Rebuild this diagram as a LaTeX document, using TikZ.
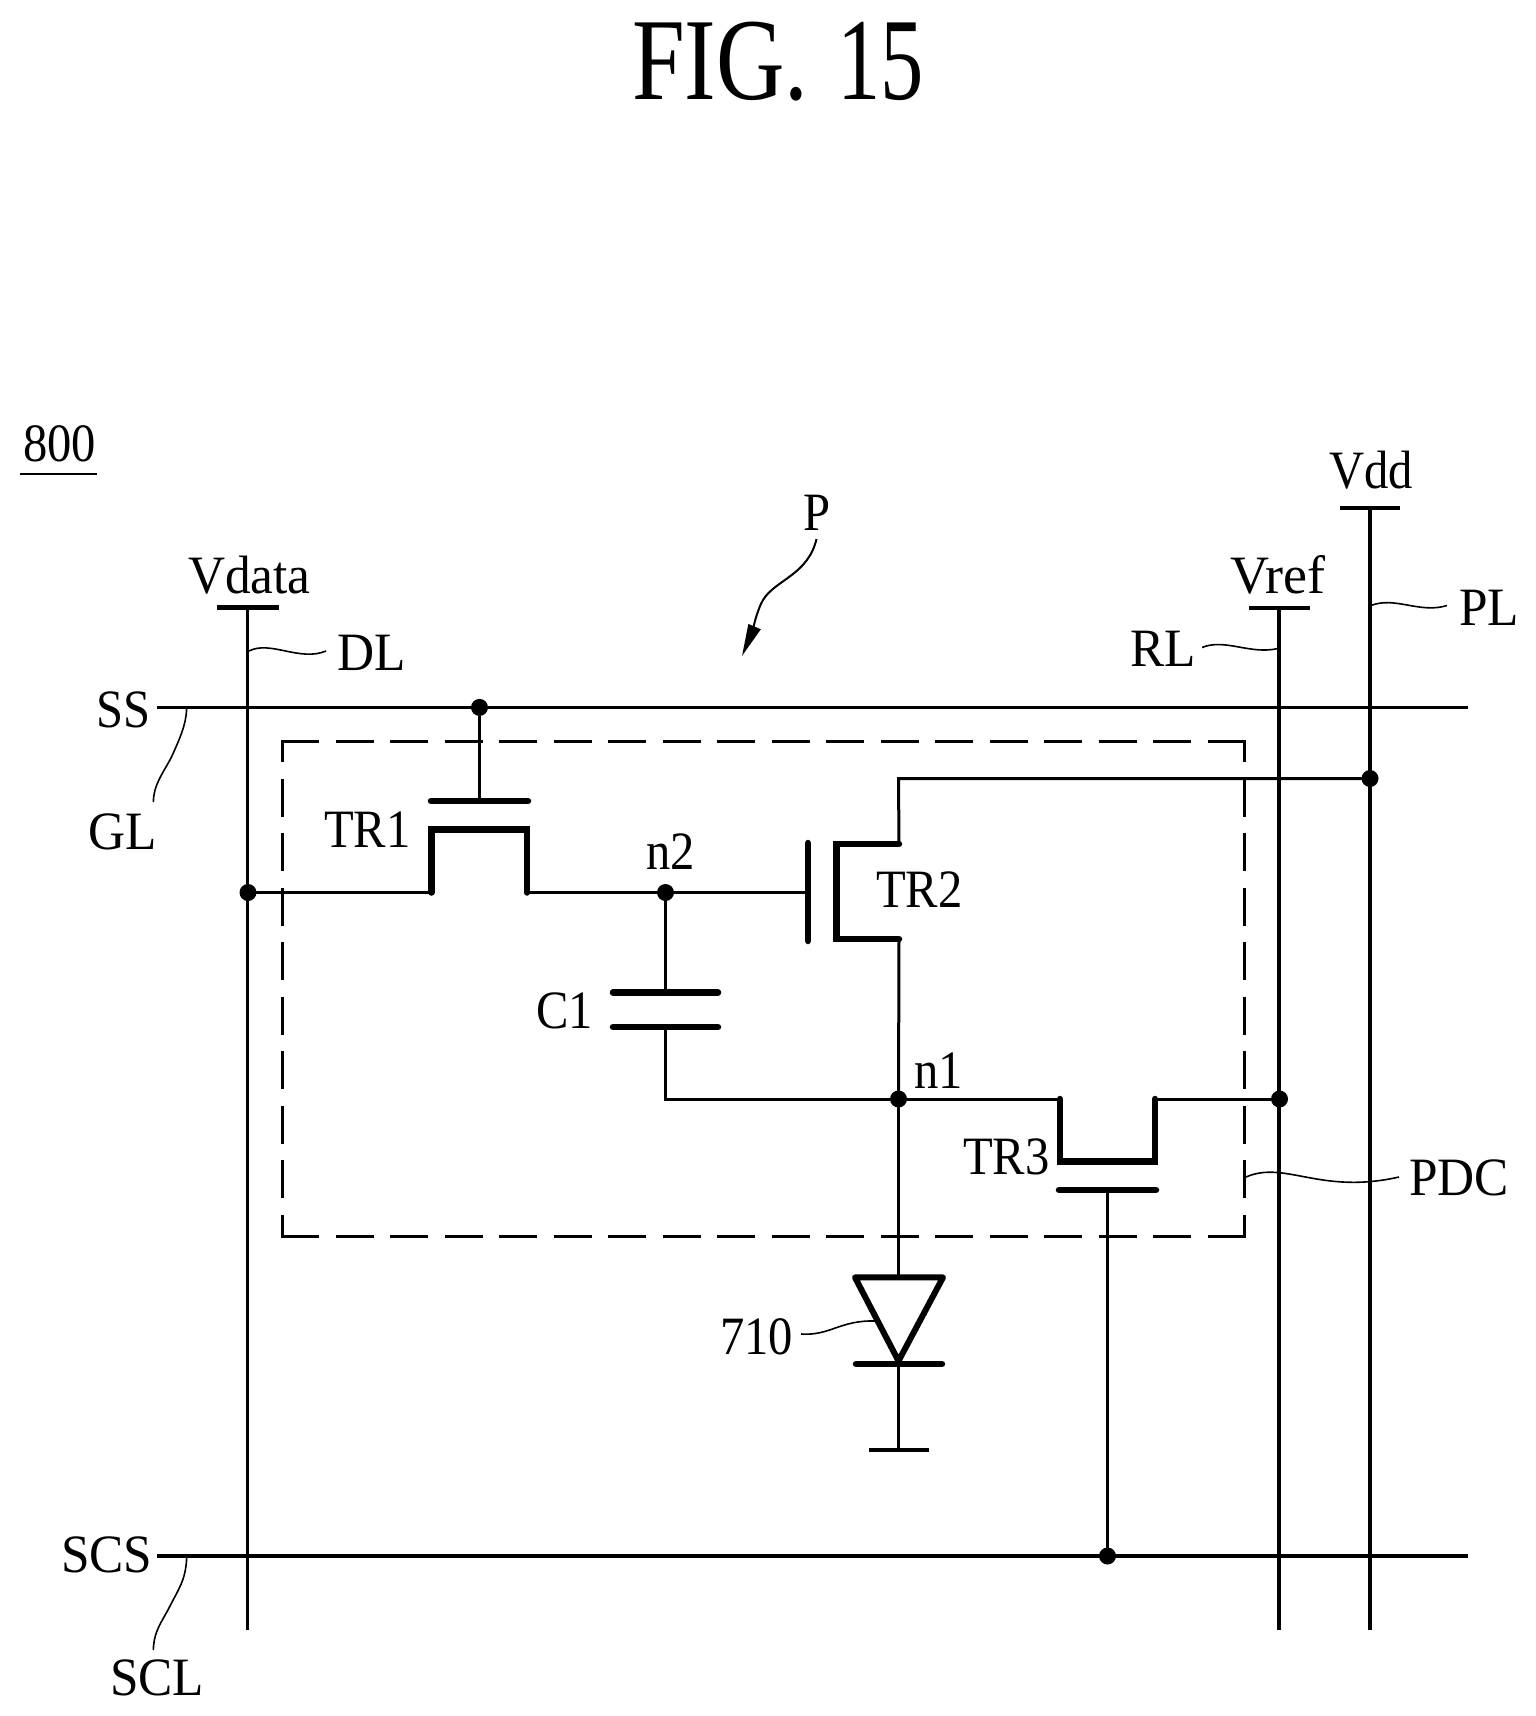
\documentclass[tikz,border=0pt]{standalone}
\usepackage{fontspec}
\usetikzlibrary{arrows.meta}
\newfontfamily\lblfont[FakeStretch=0.9]{Liberation Serif}
\newfontfamily\lblm[FakeStretch=0.95]{Liberation Serif}
\newfontfamily\lblw[FakeStretch=1.0]{Liberation Serif}
\newfontfamily\titlefont[FakeStretch=0.81]{Liberation Serif}
\newfontfamily\titlenum[FakeStretch=0.74]{Liberation Serif}
\tikzset{
  wire/.style={line width=3pt,line cap=round},
  thick wire/.style={line width=6.5pt,line cap=round,line join=miter},
  leader/.style={line width=1.6pt},
  bus/.style={line width=3.4pt},
  jdot/.style={circle,fill=black,inner sep=0pt,minimum size=17pt},
  lbl/.style={inner sep=0pt,anchor=base west,font=\fontsize{54pt}{54pt}\selectfont\lblfont},
  lblM/.style={inner sep=0pt,anchor=base west,font=\fontsize{54pt}{54pt}\selectfont\lblm},
  lblW/.style={inner sep=0pt,anchor=base west,font=\fontsize{54pt}{54pt}\selectfont\lblw},
  hbox/.style={line width=3pt,dash pattern=on 38pt off 16.5pt},
  vbox/.style={line width=3pt,dash pattern=on 38pt off 16.5pt,dash phase=16pt}
}
\begin{document}
\begin{tikzpicture}[x=1pt,y=-1pt]
\useasboundingbox (0,0) rectangle (1536,1716);
\fill[white] (0,0) rectangle (1536,1716);
% title
\node[inner sep=0pt,anchor=base west] (title) at (632,99) {\fontsize{117pt}{117pt}\selectfont\titlefont FIG.\hskip 29pt\titlenum 15};
% labels
\node[lbl] (l800) at (23,461) {800};
\coordinate (u1) at (20,473.6); \coordinate (u2) at (96.5,473.6);
\draw[line width=2pt] (u1) -- (u2);
\node[lblM] (lVdata) at (188,593) {Vdata};
\node[lblM] (lDL) at (337,670.5) {DL};
\node[lbl] (lSS) at (96,727) {SS};
\node[lblM] (lGL) at (88,849.5) {GL};
\node[lbl] (lTR1) at (324,847) {TR1};
\node[lbl] (ln2) at (646,869) {n2};
\node[lbl] (lC1) at (536,1028) {C1};
\node[lbl] (lP) at (803,530) {P};
\node[lbl] (lVdd) at (1329,488) {Vdd};
\node[lblW] (lVref) at (1230,593) {Vref};
\node[lblM] (lRL) at (1130,666) {RL};
\node[lblM] (lPL) at (1459,625.5) {PL};
\node[lbl] (lTR2) at (876,907.5) {TR2};
\node[lbl] (ln1) at (914,1088) {n1};
\node[lbl] (lTR3) at (963,1174.5) {TR3};
\node[lblM] (lPDC) at (1409,1195.5) {PDC};
\node[lbl] (l710) at (720,1354.5) {710};
\node[lblM] (lSCS) at (61,1572.5) {SCS};
\node[lblM] (lSCL) at (110,1695) {SCL};
% line ends
\coordinate (dtop) at (247.5,607.4); \coordinate (dbot) at (247.5,1630);
\coordinate (rtop) at (1279,608); \coordinate (rbot) at (1279,1630);
\coordinate (ptop) at (1370,508); \coordinate (pbot) at (1370,1630);
\coordinate (ssl) at (157,707.4); \coordinate (ssr) at (1468,707.4);
\coordinate (scl) at (157,1556); \coordinate (scr) at (1468,1556);
% junctions
\node[jdot] (jg1) at (479.5,707.4) {};
\node[jdot] (jd) at (248,892.5) {};
\node[jdot] (jn2) at (665.5,892.5) {};
\node[jdot] (jn1) at (898.5,1099) {};
\node[jdot] (jr) at (1279.5,1099) {};
\node[jdot] (jp) at (1370,778.5) {};
\node[jdot] (jg3) at (1107.5,1556) {};
% dashed box
\coordinate (bxa) at (282.3,740); \coordinate (bxb) at (282.3,1238);
\coordinate (bxc) at (1244.5,740); \coordinate (bxd) at (1244.5,1238);
\coordinate (bxe) at (281,741.4); \coordinate (bxf) at (1246,741.4);
\coordinate (bxg) at (281,1236.5); \coordinate (bxh) at (1246,1236.5);
\draw[vbox] (bxa) -- (bxb);
\draw[vbox] (bxc) -- (bxd);
\draw[hbox] (bxe) -- (bxf);
\draw[hbox] (bxg) -- (bxh);
% buses
\draw[bus] (dtop) -- (dbot);
\draw[bus] (rtop) -- (rbot);
\draw[bus] (ptop) -- (pbot);
\draw[bus] (ssl) -- (ssr);
\draw[bus] (scl) -- (scr);
\draw[line width=4.5pt] (217,607.4) -- (279,607.4);
\draw[line width=4.5pt] (1249,608) -- (1310,608);
\draw[line width=4.5pt] (1340,508) -- (1400,508);
% TR1
\coordinate (g1a) at (431,801); \coordinate (g1b) at (528,801); \coordinate (g1m) at (479.5,801);
\coordinate (c1a) at (431.5,892.5); \coordinate (c1b) at (431.5,829.5); \coordinate (c1c) at (527,829.5); \coordinate (c1d) at (527,892.5);
\draw[wire] (jg1) -- (g1m);
\draw[thick wire] (g1a) -- (g1b);
\draw[thick wire] (c1a) -- (c1b) -- (c1c) -- (c1d);
\draw[wire] (jd) -- (c1a);
\draw[wire] (c1d) -- (jn2);
% TR2
\coordinate (g2m) at (808,892.5); \coordinate (g2a) at (808,843); \coordinate (g2b) at (808,941);
\coordinate (c2a) at (899,844); \coordinate (c2b) at (836.5,844); \coordinate (c2c) at (836.5,939); \coordinate (c2d) at (899,939);
\coordinate (topw) at (898.5,778.5);
\draw[wire] (jn2) -- (g2m);
\draw[thick wire] (g2a) -- (g2b);
\draw[thick wire] (c2a) -- (c2b) -- (c2c) -- (c2d);
\draw[wire] (c2a) -- (topw) -- (jp);
\draw[wire] (c2d) -- (jn1);
% C1
\coordinate (p1a) at (613,992.5); \coordinate (p1b) at (718,992.5); \coordinate (p1m) at (665.5,992.5);
\coordinate (p2a) at (613,1027); \coordinate (p2b) at (718,1027); \coordinate (p2m) at (665.5,1027);
\coordinate (cb) at (665.5,1099);
\draw[wire] (jn2) -- (p1m);
\draw[thick wire] (p1a) -- (p1b);
\draw[thick wire] (p2a) -- (p2b);
\draw[wire] (p2m) -- (cb) -- (jn1);
% TR3
\coordinate (c3a) at (1060,1099); \coordinate (c3b) at (1060,1161.5); \coordinate (c3c) at (1155,1161.5); \coordinate (c3d) at (1155,1099);
\coordinate (g3a) at (1059,1190); \coordinate (g3b) at (1156,1190); \coordinate (g3m) at (1107.5,1190);
\draw[wire] (jn1) -- (c3a);
\draw[thick wire] (c3a) -- (c3b) -- (c3c) -- (c3d);
\draw[wire] (c3d) -- (jr);
\draw[thick wire] (g3a) -- (g3b);
\draw[wire] (g3m) -- (jg3);
% diode
\coordinate (da) at (855,1277.4); \coordinate (db) at (943,1277.4); \coordinate (dm) at (898.5,1277.4);
\coordinate (dtip) at (898.5,1361); \coordinate (ca) at (856,1364); \coordinate (cbb) at (942,1364); \coordinate (cm) at (898.5,1364);
\coordinate (gnd) at (898.5,1449.5); \coordinate (gnda) at (869,1449.5); \coordinate (gndb) at (929,1449.5);
\draw[wire] (jn1) -- (dm);
\draw[line width=6pt,line join=round] (da) -- (dtip) -- (db) -- cycle;
\draw[thick wire] (ca) -- (cbb);
\draw[wire] (cm) -- (gnd);
\draw[line width=4pt] (gnda) -- (gndb);
% leaders
\draw[leader] (249,651) .. controls (270,640) and (300,662) .. (326,651);
\draw[leader] (186.6,709) .. controls (186,725) and (180,738) .. (171.5,757) .. controls (162,775) and (153.5,785) .. (153.4,802);
\draw[leader] (1202,647.5) .. controls (1225,638) and (1250,655) .. (1278,648.5);
\draw[leader] (1371,605.5) .. controls (1395,596) and (1420,614) .. (1447,605.5);
\draw[leader] (1246,1177) .. controls (1285,1160) and (1320,1195) .. (1399,1177);
\draw[leader] (801,1334) .. controls (830,1336) and (840,1320) .. (875,1321);
\draw[leader] (186.7,1557) .. controls (186,1580) and (178,1590) .. (170,1606) .. controls (162,1622) and (154,1630) .. (153.3,1650);
\draw[line width=2pt,-{Triangle[length=32pt,width=13pt]}] (816.5,539) .. controls (808,575) and (775,580) .. (763,600) .. controls (757,610) and (751,635) .. (742,656);
\end{tikzpicture}
\end{document}
